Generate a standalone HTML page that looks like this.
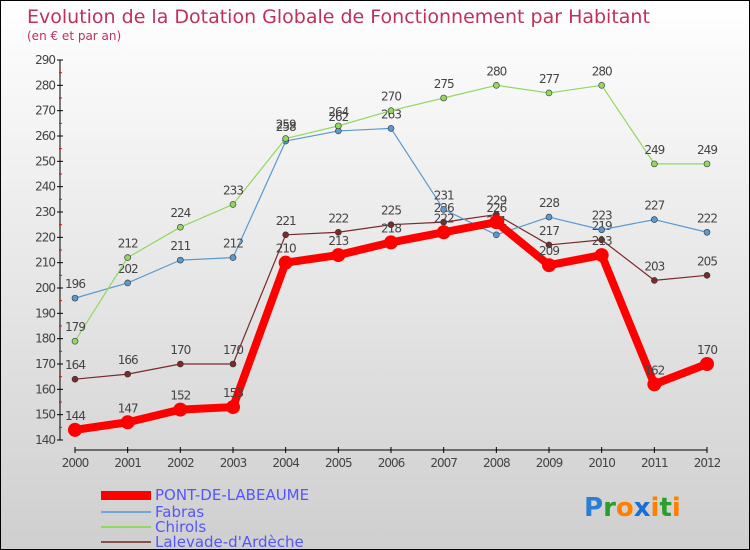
<!DOCTYPE html>
<html><head><meta charset="utf-8"><style>
body{margin:0}
#c{width:748px;height:548px;border:1px solid #000;background:linear-gradient(#ffffff,#cfcfcf);position:relative;overflow:hidden;font-family:"DejaVu Sans","Liberation Sans",sans-serif}
svg text{font-family:"DejaVu Sans","Liberation Sans",sans-serif}
</style></head><body>
<div id="c">
<svg id="s" width="748" height="548">
<text x="26" y="22" font-size="19" fill="#c0305a">Evolution de la Dotation Globale de Fonctionnement par Habitant</text>
<text x="26" y="39" font-size="12" fill="#c0305a">(en € et par an)</text>
<g id="axes"></g><g id="series"></g>
<g>
<rect x="100" y="490" width="50" height="9" fill="#f00"/>
<text x="154" y="499" font-size="15" fill="#5555ff">PONT-DE-LABEAUME</text>
<line x1="100" x2="150" y1="511" y2="511" stroke="#6fa6d6" stroke-width="2"/>
<text x="154" y="516" font-size="15" fill="#5555ff">Fabras</text>
<line x1="100" x2="150" y1="526" y2="526" stroke="#90d860" stroke-width="2"/>
<text x="154" y="531" font-size="15" fill="#5555ff">Chirols</text>
<line x1="100" x2="150" y1="541" y2="541" stroke="#8a5050" stroke-width="2"/>
<text x="154" y="546" font-size="15" fill="#5555ff">Lalevade-d'Ardèche</text>
</g>
<text x="583" y="515" font-size="26" font-weight="bold"><tspan fill="#2a7fd4">P</tspan><tspan fill="#2aa02a">r</tspan><tspan fill="#ff8000">o</tspan><tspan fill="#1a6fd4">x</tspan><tspan fill="#ff8000">i</tspan><tspan fill="#2aa02a">t</tspan><tspan fill="#ff8000">i</tspan></text>
</svg></div>
<script>
const years=[2000,2001,2002,2003,2004,2005,2006,2007,2008,2009,2010,2011,2012];
const pont=[144,147,152,153,210,213,218,222,226,209,213,162,170];
const fabras=[196,202,211,212,258,262,263,231,221,228,223,227,222];
const chirols=[179,212,224,233,259,264,270,275,280,277,280,249,249];
const lalevade=[164,166,170,170,221,222,225,226,229,217,219,203,205];
const yTicks=[140,150,160,170,180,190,200,210,220,230,240,250,260,270,280,290];
const NS="http://www.w3.org/2000/svg";
const X=i=>74+i*(632/12);
const Y=v=>439-(v-140)*(380/150);
function mk(t,a,p){const e=document.createElementNS(NS,t);for(const k in a)e.setAttribute(k,a[k]);p.appendChild(e);return e;}
const ax=document.getElementById('axes');
let l=mk('line',{x1:59,x2:59,y1:Y(290),y2:Y(140),stroke:'#000'},ax);


l=mk('line',{x1:X(0),x2:X(12),y1:449,y2:449,stroke:'#000'},ax);


yTicks.forEach(v=>{
 mk('line',{x1:56,x2:62,y1:Y(v),y2:Y(v),stroke:'#000'},ax);
 if(v<290)mk('line',{x1:58,x2:61,y1:Y(v+5),y2:Y(v+5),stroke:'#f00'},ax);
 const t=mk('text',{x:54,y:Y(v)+4,'font-size':12,fill:'#444','text-anchor':'end','letter-spacing':'-1'},ax);
 t.textContent=v;
 
 
});
years.forEach((yr,i)=>{
 mk('line',{x1:X(i),x2:X(i),y1:446,y2:452,stroke:'#000'},ax);
 const t=mk('text',{x:X(i),y:466,'font-size':12,fill:'#444','text-anchor':'middle','letter-spacing':'-1'},ax);
 t.textContent=yr;
 
 
});
const sg=document.getElementById('series');
function series(d,col,w,r,name){
 const g=mk('g',{},sg);
 
 
 const p=mk('polyline',{points:d.map((v,i)=>X(i)+','+Y(v)).join(' '),fill:'none',stroke:col,'stroke-width':w,'stroke-linejoin':'round'},g);
 
 
 d.forEach((v,i)=>{
  const c=mk('circle',{cx:X(i),cy:Y(v),r:r,fill:col,stroke:'#333','stroke-width':r>5?0:0.6},g);
  
  
  const t=mk('text',{x:X(i),y:Y(v)-10,'font-size':12,fill:'#444','text-anchor':'middle','letter-spacing':'-1'},g);
  t.textContent=v;
  
  
 });
}
series(lalevade,'#7a2a2a',1.2,3,'lalevade');
series(fabras,'#5a9ad0',1.2,3,'fabras');
series(chirols,'#90d860',1.2,3,'chirols');
series(pont,'#ff0000',8,7,'pont');
</script>
</body></html>
